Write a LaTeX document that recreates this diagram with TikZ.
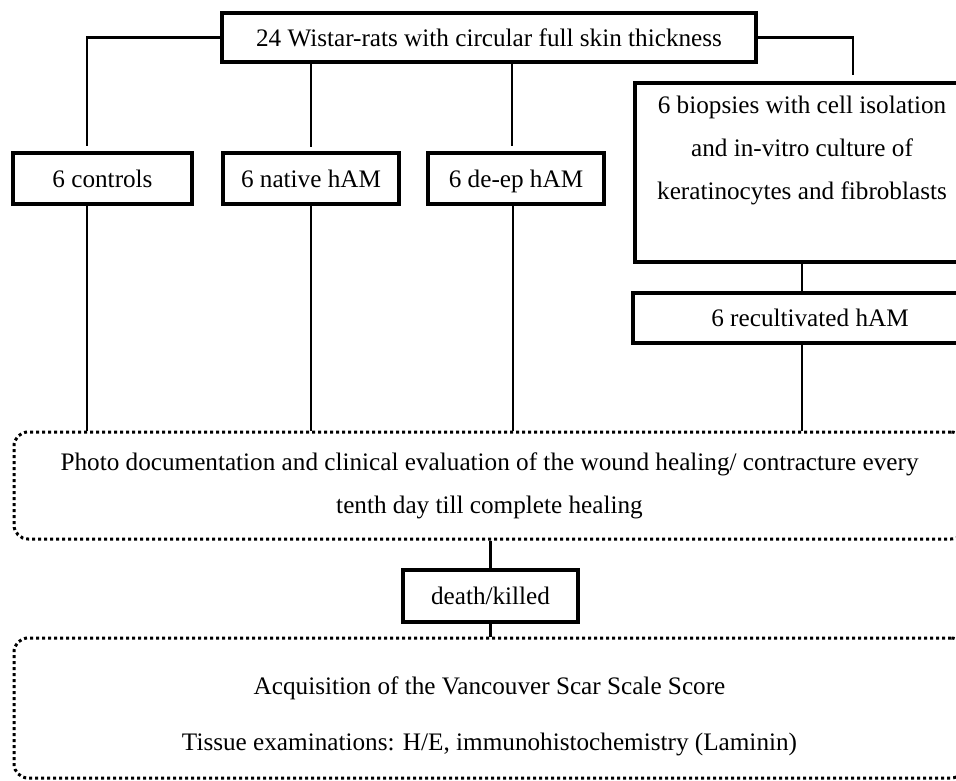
\documentclass[tikz,border=0pt]{standalone}
\usepackage{fontspec}
\setmainfont{Liberation Serif}
\begin{document}
\begin{tikzpicture}[x=1pt,y=-1pt,
  box/.style={draw, line width=4pt, rectangle, inner sep=0pt, text height=17.2pt, text depth=0pt},
  conn/.style={line width=2.7pt},
  dotbox/.style={draw, line width=3pt, dash pattern=on 3pt off 3pt, rounded corners=14pt, inner sep=0pt},
  txt/.style={align=center, inner sep=0pt},
  every node/.style={font=\fontsize{25.2}{43}\selectfont}]
\clip (0,0) rectangle (956,781);
\fill[white] (0,0) rectangle (956,781);

\node[box, minimum width=534pt, minimum height=49pt] (top) at (489,37.5) {24 Wistar-rats with circular full skin thickness};
\node[box, minimum width=179pt, minimum height=51pt] (ctrl) at (102.5,178.5) {6 controls};
\node[box, minimum width=176pt, minimum height=51pt] (nat) at (311,178.5) {6 native hAM};
\node[box, minimum width=176pt, minimum height=51pt] (deep) at (516,178.5) {6 de-ep hAM};
\node[box, minimum width=334pt, minimum height=179pt] (biop) at (802,172.5) {};
\node[txt] (biopt) at (802,150) {6 biopsies with cell isolation\\and in-vitro culture of\\keratinocytes and fibroblasts};
\node[box, minimum width=354pt, minimum height=50pt] (recu) at (810,318) {6 recultivated hAM};

\node[dotbox, minimum width=951pt, minimum height=107pt, align=center] (photo) at (489.5,485.5) {Photo documentation and clinical evaluation of the wound healing/ contracture every\\tenth day till complete healing};
\node[box, minimum width=175pt, minimum height=52pt] (death) at (490.5,596) {death/killed};
\node[dotbox, minimum width=951pt, minimum height=140pt] (vss) at (489.5,708) {};
\node[txt] (vsst) at (489.5,716.2) {Acquisition of the Vancouver Scar Scale Score\\[13pt]Tissue examinations: H/E, immunohistochemistry (Laminin)};

% connectors
\draw[conn] (top.west) -| ([xshift=-15.5pt, yshift=5pt]ctrl.north);
\draw[conn] (top.east) -| ([xshift=51pt, yshift=6pt]biop.north);
\draw[conn] (top.south -| nat.north) -- ([yshift=4pt]nat.north);
\draw[conn] ([xshift=-4pt]top.south -| deep.north) -- ([xshift=-4pt, yshift=5pt]deep.north);

\draw[conn] ([xshift=-15.5pt]ctrl.south) -- ([xshift=-15.5pt]ctrl.south |- photo.north);
\draw[conn] (nat.south) -- (nat.south |- photo.north);
\draw[conn] ([xshift=-3pt]deep.south) -- ([xshift=-3pt]deep.south |- photo.north);
\draw[conn] (biop.south) -- (biop.south |- recu.north);
\draw[conn] (biop.south |- recu.south) -- (biop.south |- photo.north);
\draw[conn] (death.north |- photo.south) -- (death.north);
\draw[conn] (death.south) -- (death.south |- vss.north);
\end{tikzpicture}
\end{document}
